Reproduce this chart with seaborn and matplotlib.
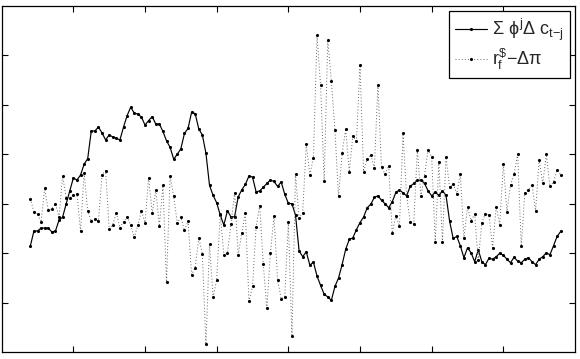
import numpy as np
import pandas as pd
import matplotlib
matplotlib.use("Agg")
import matplotlib.pyplot as plt
import seaborn as sns

# quarterly observations
start_year = 1957.0
consumption_term = [
    2.15, 2.45, 2.45, 2.51, 2.51, 2.51, 2.43, 2.45, 2.67, 2.73,
    3.00, 3.26, 3.52, 3.48, 3.58, 3.80, 3.91, 4.47, 4.47, 4.55,
    4.43, 4.29, 4.39, 4.35, 4.32, 4.29, 4.55, 4.78, 4.95, 4.83,
    4.81, 4.75, 4.59, 4.68, 4.76, 4.61, 4.61, 4.46, 4.27, 4.14,
    3.90, 4.00, 4.11, 4.42, 4.52, 4.85, 4.82, 4.51, 4.39, 4.02,
    3.37, 3.17, 3.02, 2.77, 2.57, 2.86, 2.73, 2.74, 3.14, 3.28,
    3.39, 3.56, 3.54, 3.24, 3.26, 3.33, 3.41, 3.48, 3.45, 3.35,
    3.44, 3.19, 3.01, 3.00, 2.77, 2.05, 1.93, 2.03, 1.76, 1.82,
    1.54, 1.35, 1.17, 1.12, 1.05, 1.33, 1.50, 1.77, 2.08, 2.28,
    2.31, 2.48, 2.62, 2.73, 2.92, 2.99, 3.13, 3.16, 3.07, 3.00,
    2.92, 3.04, 3.23, 3.28, 3.22, 3.16, 3.35, 3.41, 3.47, 3.48,
    3.41, 3.26, 3.16, 3.23, 3.17, 3.26, 3.17, 2.65, 2.30, 2.34,
    2.15, 1.91, 2.11, 2.01, 1.83, 2.07, 1.83, 1.77, 1.90, 1.88,
    1.93, 2.00, 1.96, 1.88, 1.81, 1.92, 1.84, 1.81, 1.88, 1.91,
    1.83, 1.77, 1.88, 1.93, 2.01, 1.97, 2.15, 2.34, 2.44,
]
real_rate = [
    3.10, 2.83, 2.79, 2.63, 3.31, 2.87, 2.90, 3.00, 2.73, 3.56,
    3.12, 3.12, 3.17, 3.20, 2.45, 3.62, 2.86, 2.65, 2.70, 2.65,
    3.59, 3.67, 2.49, 2.58, 2.82, 2.51, 2.64, 2.73, 2.57, 2.32,
    2.57, 2.85, 2.62, 3.52, 2.81, 3.28, 2.55, 3.37, 1.42, 3.56,
    3.15, 2.61, 2.73, 2.46, 2.65, 1.57, 1.71, 2.31, 1.99, 0.16,
    2.18, 1.11, 1.47, 2.79, 1.96, 2.00, 2.59, 3.22, 1.97, 2.41,
    2.82, 1.03, 1.33, 2.53, 2.96, 1.78, 0.89, 2.01, 2.75, 1.46,
    1.08, 1.12, 2.63, 0.32, 3.60, 2.71, 2.82, 4.20, 3.59, 3.93,
    6.40, 5.39, 3.45, 6.31, 5.48, 4.49, 3.15, 4.02, 4.51, 3.64,
    4.37, 4.27, 5.80, 3.65, 3.90, 3.99, 3.72, 5.40, 3.74, 3.60,
    3.77, 2.41, 2.76, 2.55, 4.42, 3.16, 2.64, 2.60, 4.09, 3.15,
    3.57, 4.09, 3.95, 2.22, 3.85, 2.22, 3.94, 3.33, 3.40, 3.20,
    3.60, 2.31, 2.93, 2.66, 2.79, 1.86, 2.62, 2.80, 2.78, 2.11,
    2.94, 2.58, 3.81, 2.84, 3.38, 3.60, 4.00, 2.14, 3.22, 3.28,
    3.38, 2.86, 3.89, 3.41, 4.00, 3.35, 3.44, 3.68, 3.59,
]
labels = [r'$\Sigma\ \phi^j\Delta\ c_{t{-}j}$', r'$r_f^{\$}{-}\Delta\pi$']
x_ticks = [1960, 1965, 1970, 1975, 1980, 1985, 1990]
y_ticks = [1, 2, 3, 4, 5, 6]

n = len(consumption_term)
time = start_year + 0.25 * np.arange(n)
df = pd.DataFrame({"time": time, "cons": consumption_term, "rate": real_rate})

sns.set_theme(style="white")
plt.rcParams["font.family"] = ["Liberation Sans", "DejaVu Sans"]
plt.rcParams["mathtext.fontset"] = "custom"
plt.rcParams["mathtext.rm"] = "Liberation Sans"
plt.rcParams["mathtext.it"] = "Liberation Sans"
plt.rcParams["mathtext.bf"] = "Liberation Sans:bold"

fig = plt.figure(figsize=(5.8, 3.59), dpi=100)
ax = fig.add_axes([1.7 / 580, 1 - 352.3 / 359, 573.3 / 580, 346.6 / 359])

sns.lineplot(data=df, x="time", y="cons", ax=ax, color="black", linewidth=0.85,
             marker=".", markersize=4.5, markeredgewidth=0, label=labels[0])
sns.lineplot(data=df, x="time", y="rate", ax=ax, color="#666666", linewidth=0.7,
             linestyle=(0, (1, 2.2)), marker=".", markersize=4.5,
             markeredgewidth=0, markerfacecolor="black", label=labels[1])

ax.set_xlim(1955, 1995)
ax.set_ylim(0, 7)
ax.set_xticks(x_ticks)
ax.set_yticks(y_ticks)
ax.set_xticklabels([])
ax.set_yticklabels([])
ax.set_xlabel("")
ax.set_ylabel("")
ax.tick_params(direction="in", length=4, width=0.8, color="black",
               top=True, right=True, bottom=True, left=True)
for s in ax.spines.values():
    s.set_color("black")
    s.set_linewidth(0.9)

leg = ax.legend(loc="upper right", fontsize=13, frameon=True, fancybox=False,
                edgecolor="black", framealpha=1, borderpad=0.3,
                handlelength=1.8, handletextpad=0.3, labelspacing=0.2,
                borderaxespad=0.3)
leg.get_frame().set_linewidth(0.9)

fig.savefig("out.png", dpi=100)
